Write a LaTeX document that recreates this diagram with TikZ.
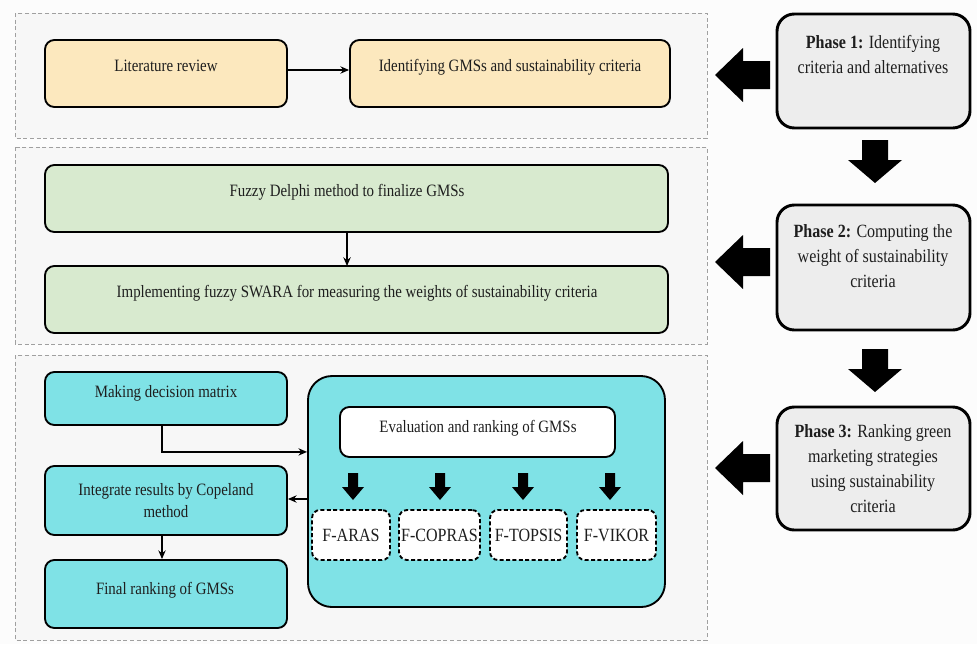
\documentclass[tikz,border=0pt]{standalone}
\usepackage{fontspec}
\setmainfont{Liberation Serif}[FakeStretch=0.86]
\usetikzlibrary{arrows.meta,fit,calc}

\definecolor{pagebg}{HTML}{FCFCFC}
\definecolor{panelbg}{HTML}{F7F7F7}
\definecolor{panelln}{HTML}{A0A0A0}
\definecolor{sand}{HTML}{FCE8BE}
\definecolor{sage}{HTML}{D8EACF}
\definecolor{aqua}{HTML}{7FE2E6}
\definecolor{phasebg}{HTML}{EDEDED}
\definecolor{ink}{HTML}{1E1E1E}

\tikzset{
  panel/.style={draw=panelln, fill=panelbg, dashed, line width=0.6pt, dash pattern=on 3pt off 2pt},
  box/.style={draw=black, line width=1.4pt, rounded corners=7pt, inner sep=0pt},
  txt/.style={text=ink, font=\fontsize{13}{16.5}\selectfont, align=center, inner sep=0pt},
  mtxt/.style={txt, font=\fontsize{14}{16.5}\selectfont},
  phasebox/.style={draw=black, line width=2.2pt, rounded corners=13pt, fill=phasebg, inner sep=0pt},
  phasetxt/.style={text=ink, font=\fontsize{14}{18.75}\selectfont, align=center, inner sep=0pt},
  method/.style={box, fill=white, dashed, dash pattern=on 3pt off 1.8pt, line width=1.4pt, rounded corners=6pt},
  conn/.style={draw=black, line width=1.1pt, -{Stealth[length=6.5pt,width=5.5pt]}},
  pics/blkdown/.style={code={\fill[black] (-13,0) -- (13,0) -- (13,20) -- (27,20) -- (0,43) -- (-27,20) -- (-13,20) -- cycle;}},
  pics/blkleft/.style={code={\fill[black] (0,-14) -- (-27,-14) -- (-27,-27) -- (-55,0) -- (-27,27) -- (-27,14) -- (0,14) -- cycle;}},
  pics/smalldown/.style={code={\fill[black] (-5,0) -- (5,0) -- (5,14) -- (11,14) -- (0,27) -- (-11,14) -- (-5,14) -- cycle;}},
}

\begin{document}
\begin{tikzpicture}[x=0.75pt,y=-0.75pt]
\useasboundingbox (0,0) rectangle (977,644);
\fill[pagebg] (0,0) rectangle (977,644);

% dashed phase panels
\draw[panel] (15,13) rectangle (707,138);
\draw[panel] (15,147) rectangle (707,344);
\draw[panel] (15,355) rectangle (707,640);

% phase 1 steps
\node[box, fill=sand, fit={(45,40) (287,107)}] (lit) {};
\node[txt] (littxt) at (166,66) {Literature review};
\node[box, fill=sand, fit={(350,40) (670,107)}] (ident) {};
\node[txt] (identtxt) at (510,67) {Identifying GMSs and sustainability criteria};
\draw[conn] (lit.east |- 0,70) -- (ident.west |- 0,70);

% phase 2 steps
\node[box, fill=sage, fit={(45,165) (668,232)}] (delphi) {};
\node[txt] (delphitxt) at (347,192) {Fuzzy Delphi method to finalize GMSs};
\node[box, fill=sage, fit={(45,266) (668,333)}] (swara) {};
\node[txt] (swaratxt) at (357,293) {Implementing fuzzy SWARA for measuring the weights of sustainability criteria};
\draw[conn] (347,232) -- (347,266);

% phase 3 steps
\node[box, fill=aqua, fit={(45,372) (287,425)}] (mdm) {};
\node[txt] (mdmtxt) at (166,393) {Making decision matrix};
\node[box, fill=aqua, fit={(45,466) (287,535)}] (integ) {};
\node[txt] (integtxt) at (166,501) {Integrate results by Copeland\\method};
\node[box, fill=aqua, fit={(45,560) (287,628)}] (final) {};
\node[txt] (finaltxt) at (165,590) {Final ranking of GMSs};

\node[box, fill=aqua, rounded corners=18pt, fit={(308,376) (665,607)}] (big) {};
\node[box, fill=white, fit={(340,407) (615,457)}] (eval) {};
\node[txt] (evaltxt) at (478,428) {Evaluation and ranking of GMSs};

\node[method, fit={(312,510) (390,560)}] (aras) {};
\node[method, fit={(399,510) (480,560)}] (copras) {};
\node[method, fit={(490,510) (567,560)}] (topsis) {};
\node[method, fit={(577,510) (656,560)}] (vikor) {};
\node[mtxt] (arastxt) at (aras) {F-ARAS};
\node[mtxt] (coprastxt) at (copras) {F-COPRAS};
\node[mtxt] (topsistxt) at (topsis) {F-TOPSIS};
\node[mtxt] (vikortxt) at (vikor) {F-VIKOR};

\pic at (353,473) {smalldown};
\pic at (440,473) {smalldown};
\pic at (523,473) {smalldown};
\pic at (610,473) {smalldown};

\draw[conn] (mdm.south -| 162,0) |- ($(big.north west)!0.33!(big.south west)$);
\draw[conn] (big.west |- 0,499) -- (integ.east |- 0,499);
\draw[conn] (integ.south -| 162,0) -- (final.north -| 162,0);

% phase column
\node[phasebox, fit={(777,14) (970,128)}] (ph1) {};
\node[phasetxt] (ph1txt) at (873,55) {\textbf{Phase 1:} Identifying\\criteria and alternatives};
\node[phasebox, fit={(777,205) (970,330)}] (ph2) {};
\node[phasetxt] (ph2txt) at (873,256) {\textbf{Phase 2:} Computing the\\weight of sustainability\\criteria};
\node[phasebox, fit={(777,407) (970,530)}] (ph3) {};
\node[phasetxt] (ph3txt) at (873,469) {\textbf{Phase 3:} Ranking green\\marketing strategies\\using sustainability\\criteria};

\pic at (875,140) {blkdown};
\pic at (875,349) {blkdown};
\pic at (770,75) {blkleft};
\pic at (770,262) {blkleft};
\pic at (770,468) {blkleft};
\end{tikzpicture}
\end{document}
